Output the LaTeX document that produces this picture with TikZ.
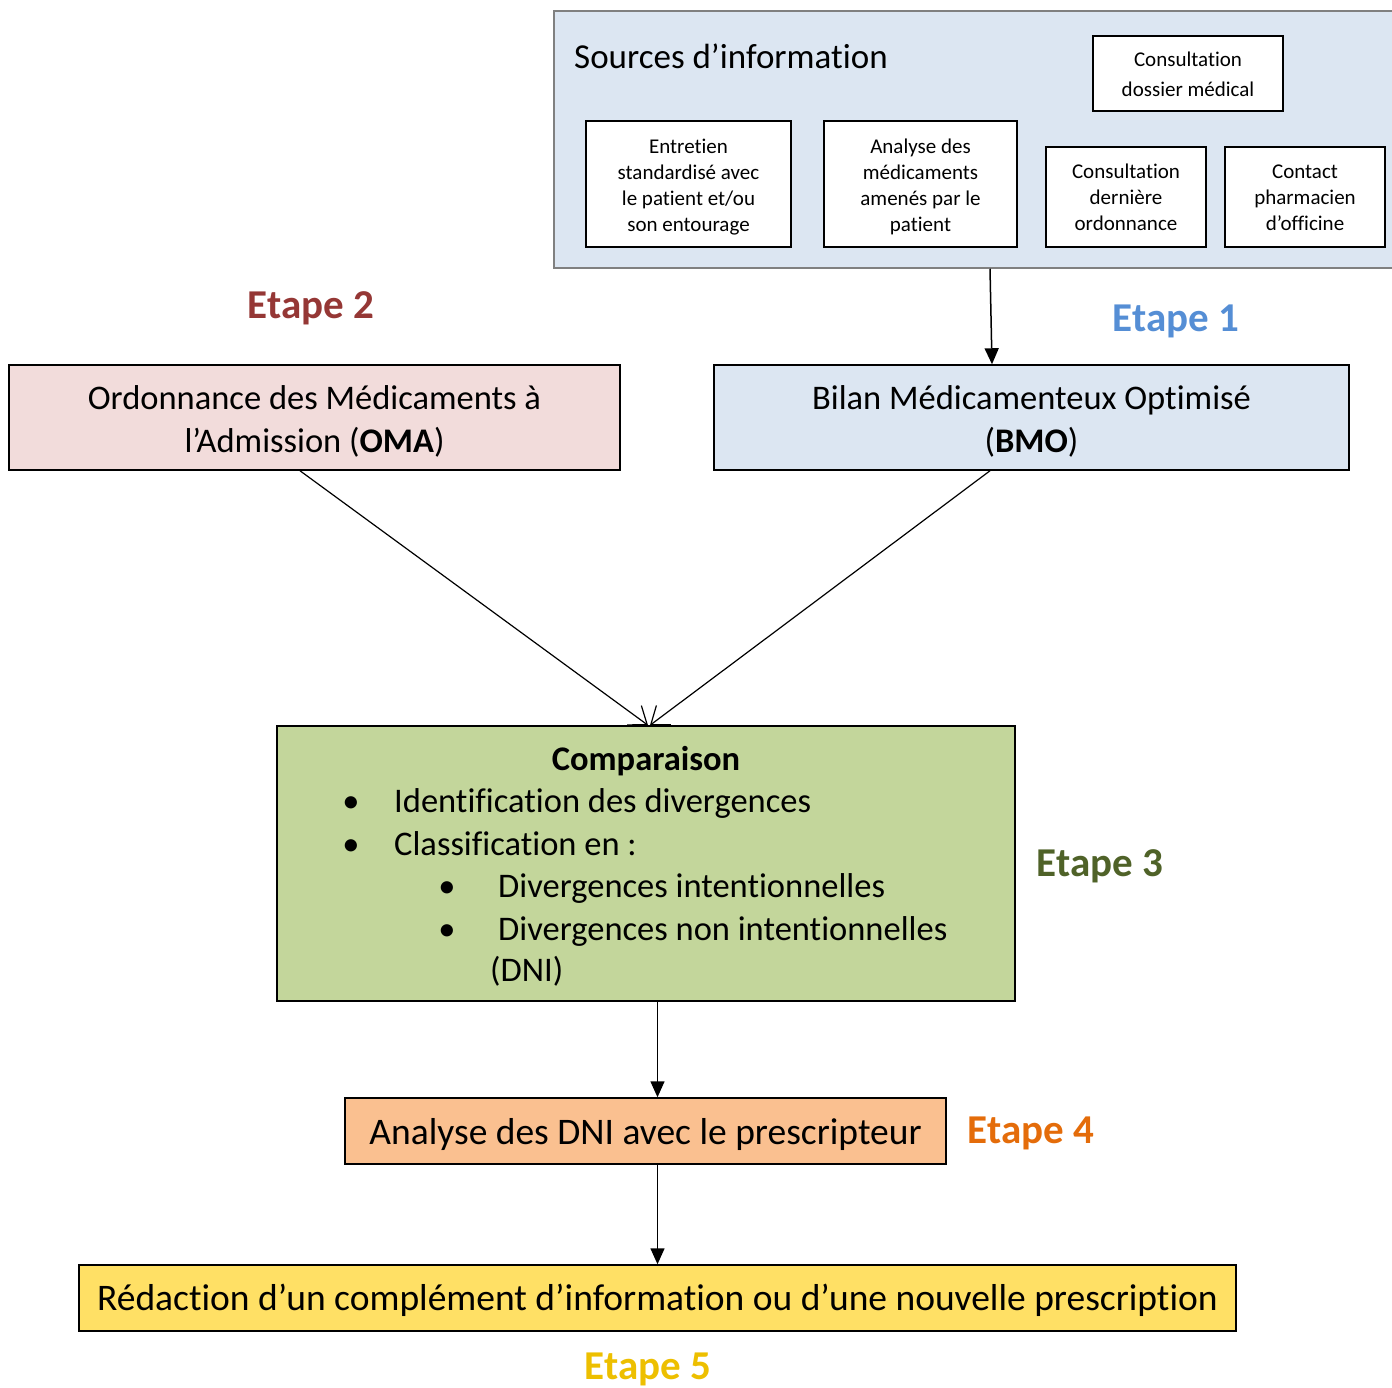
\documentclass[tikz,border=0pt]{standalone}
\usepackage{fontspec}
\setmainfont{Carlito}[Ligatures={TeX,NoCommon}]
\usepackage{tikz}
\usetikzlibrary{arrows.meta,positioning}
\definecolor{bleuclair}{HTML}{DCE6F2}
\definecolor{rose}{HTML}{F2DCDB}
\definecolor{vert}{HTML}{C3D69B}
\definecolor{orangeclair}{HTML}{FAC090}
\definecolor{jaune}{HTML}{FFE065}
\definecolor{etapeun}{HTML}{558ED5}
\definecolor{etapedeux}{HTML}{953735}
\definecolor{etapetrois}{HTML}{4F6228}
\definecolor{etapequatre}{HTML}{E46C0A}
\definecolor{etapecinq}{HTML}{EDBF00}
\newcommand{\grand}{\fontsize{34.5}{42.5}\selectfont}
\newcommand{\tresgrand}{\fontsize{37.5}{45}\selectfont}
% lignes centrees (hauteur de ligne fixe), abaissees de #1
\newcommand{\bloc}[2][0pt]{\raisebox{-#1}[\height][\depth]{\begin{tabular}{@{}c@{}}#2\end{tabular}}}
\begin{document}
\begin{tikzpicture}[x=1pt,y=-1pt,
  box/.style={draw,line width=1.5pt,inner sep=0pt,align=center},
  petit/.style={box,fill=white,font=\fontsize{21}{26}\selectfont},
  etape/.style={anchor=base,font=\fontsize{41}{48}\selectfont\bfseries},
  fl/.style={line width=1.5pt,-{Triangle[length=16pt,width=14pt]}},
  flo/.style={line width=1.2pt,-{Straight Barb[length=16pt,width=24pt]}}]
\useasboundingbox (0,0) rectangle (1392,1387);
% sources d'information
\node[box,draw=gray,fill=bleuclair,minimum width=841,minimum height=257] (src) at (974.5,139.5) {};
\node[anchor=base west,inner sep=0pt,font=\fontsize{35}{42}\selectfont] (srctitre) at (574,68) {Sources d'information};
\node[petit,minimum width=190,minimum height=75,font=\fontsize{21}{30}\selectfont] (dossier) at (1188,73.5) {\bloc[1.5pt]{Consultation\\dossier médical}};
\node[petit,minimum width=205,minimum height=126] (entretien) at (688.5,184) {\bloc[3pt]{Entretien\\standardisé avec\\le patient et/ou\\son entourage}};
\node[petit,minimum width=193,minimum height=126] (analyse) at (920.5,184) {\bloc[3pt]{Analyse des\\médicaments\\amenés par le\\patient}};
\node[petit,minimum width=160,minimum height=100] (ordo) at (1126,197) {\bloc[2pt]{Consultation\\dernière\\ordonnance}};
\node[petit,minimum width=160,minimum height=100] (pharma) at (1305,197) {\bloc[2pt]{Contact\\pharmacien\\d'officine}};
% etapes 1 et 2
\node[box,fill=rose,minimum width=611,minimum height=105,font=\grand] (oma) at (314.5,417.5) {\bloc[5pt]{Ordonnance des Médicaments à\\l'Admission (\textbf{OMA})}};
\node[box,fill=bleuclair,minimum width=635,minimum height=105,font=\grand] (bmo) at (1031.5,417.5) {\bloc[5pt]{Bilan Médicamenteux Optimisé\\(\textbf{BMO})}};
\node[etape,text=etapedeux] (e2) at (311,318) {Etape 2};
\node[etape,text=etapeun] (e1) at (1176,331) {Etape 1};
% comparaison
\node[box,fill=vert,minimum width=738,minimum height=275] (comp) at (646,863.5) {};
\node[anchor=base,inner sep=0pt,font=\grand\bfseries] (ctitre) at (646,770) {Comparaison};
\foreach \t/\y/\n in {Identification des divergences/812/a,Classification en :/855/b} {
  \node[anchor=base,inner sep=0pt,font=\grand] (p\n) at (351,\y) {\textbullet};
  \node[anchor=base west,inner sep=0pt,font=\grand] (i\n) at (394,\y) {\t}; }
\foreach \t/\y/\n in {Divergences intentionnelles/897/c,Divergences non intentionnelles/940/d} {
  \node[anchor=base,inner sep=0pt,font=\grand] (p\n) at (447,\y) {\textbullet};
  \node[anchor=base west,inner sep=0pt,font=\grand] (i\n) at (498,\y) {\t}; }
\node[anchor=base west,inner sep=0pt,font=\grand] (dni) at (490,981) {(DNI)};
\node[etape,text=etapetrois] (e3) at (1100,876) {Etape 3};
% etapes 4 et 5
\node[box,fill=orangeclair,minimum width=601,minimum height=66,font=\tresgrand] (ana) at (645.5,1131) {\bloc[4pt]{Analyse des DNI avec le prescripteur}};
\node[etape,text=etapequatre] (e4) at (1031,1143) {Etape 4};
\node[box,fill=jaune,minimum width=1157,minimum height=66,font=\tresgrand] (redac) at (657.5,1298) {\bloc[3pt]{Rédaction d'un complément d'information ou d'une nouvelle prescription}};
\node[etape,text=etapecinq] (e5) at (648,1379) {Etape 5};
% fleches
\draw[fl] ([xshift=15.5]src.south) -- ([xshift=-39.5]bmo.north);
\draw[flo] ([xshift=-14.5]oma.south) -- ([xshift=2]comp.north);
\draw[flo] ([xshift=-41.5]bmo.south) -- ([xshift=4]comp.north);
\draw[fl] (comp.south -| redac.north) -- (ana.north -| redac.north);
\draw[fl] (ana.south -| redac.north) -- (redac.north);
\end{tikzpicture}
\end{document}
